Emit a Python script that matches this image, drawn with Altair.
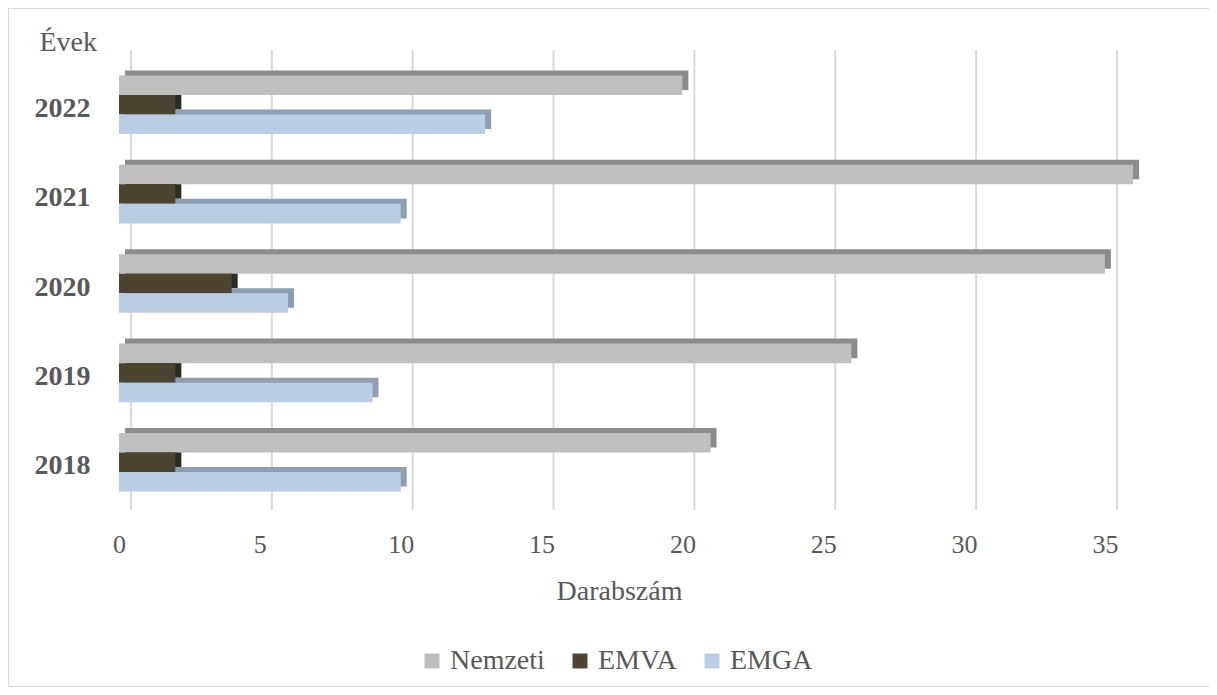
import altair as alt
import pandas as pd

years = ["2022", "2021", "2020", "2019", "2018"]
series = ["Nemzeti", "EMVA", "EMGA"]
nemzeti = [20, 36, 35, 26, 21]
emva = [2, 2, 4, 2, 2]
emga = [13, 10, 6, 9, 10]
x_ticks = [0, 5, 10, 15, 20, 25, 30, 35]

rows = []
for i, yr in enumerate(years):
    for s, vals in zip(series, [nemzeti, emva, emga]):
        rows.append({"Év": yr, "Sorozat": s, "Érték": vals[i]})
df = pd.DataFrame(rows)

front_colors = ["#BFBFBF", "#4A4430", "#B9CDE5"]
depth_colors = ["#8C8C8C", "#2F2B1E", "#8E9FB4"]

W, H = 1000, 447
DX, DY = 6, 5
FONT = "Liberation Serif"
GRAY = "#595959"
STEP = H / 5.0
BW = STEP * (1 - 0.345)

xscale = alt.Scale(domain=[0, 35.5], nice=False, zero=True)
yscale = alt.Scale(domain=years, paddingInner=0.345, paddingOuter=0.1725)

xaxis = alt.Axis(values=x_ticks, ticks=False, domain=False, grid=False, labelFlush=False,
                 labelFont=FONT, labelFontSize=26, labelColor=GRAY, labelPadding=24,
                 title="Darabszám", titleFont=FONT, titleFontSize=28,
                 titleFontWeight="normal", titleColor=GRAY, titlePadding=20)
yaxis = alt.Axis(ticks=False, domain=False, grid=False,
                 labelFont=FONT, labelFontSize=28, labelFontWeight="bold",
                 labelColor=GRAY, labelPadding=29, labelOffset=4,
                 title="Évek", titleFont=FONT, titleFontSize=28, titleFontWeight="normal",
                 titleColor=GRAY, titleAngle=0, titleX=-80, titleY=-10,
                 titleAlign="left", titleBaseline="alphabetic")

border = alt.Chart(pd.DataFrame({"a": [0]})).mark_rect(
    fillOpacity=0, stroke="#D9D9D9", strokeWidth=2
).encode(x=alt.value(-111), x2=alt.value(1091), y=alt.value(-52), y2=alt.value(627))

grid = alt.Chart(pd.DataFrame({"t": x_ticks})).mark_rule(
    color="#D9D9D9", strokeWidth=2, xOffset=12
).encode(x=alt.X("t:Q", scale=xscale, axis=xaxis), y=alt.value(-10), y2=alt.value(H + 3))

depth = alt.Chart(df).mark_bar(xOffset=DX, x2Offset=DX).encode(
    x=alt.X("Érték:Q", scale=xscale, axis=xaxis),
    y=alt.Y("Év:N", scale=yscale, axis=yaxis, sort=years),
    yOffset=alt.YOffset("Sorozat:N", sort=series,
                        scale=alt.Scale(domain=series, range=[-DY, BW - DY], paddingInner=0, paddingOuter=0)),
    color=alt.Color("Sorozat:N", scale=alt.Scale(domain=series, range=depth_colors), legend=None),
)

front = alt.Chart(df).mark_bar().encode(
    x=alt.X("Érték:Q", scale=xscale, axis=xaxis),
    y=alt.Y("Év:N", scale=yscale, axis=yaxis, sort=years),
    yOffset=alt.YOffset("Sorozat:N", sort=series,
                        scale=alt.Scale(domain=series, range=[0, BW], paddingInner=0, paddingOuter=0)),
    color=alt.Color("Sorozat:N", scale=alt.Scale(domain=series, range=front_colors),
                    legend=alt.Legend(title=None, orient="none", legendX=299, legendY=587,
                                      direction="horizontal", symbolType="square",
                                      symbolSize=225, symbolStrokeWidth=0,
                                      labelFont=FONT, labelFontSize=28, labelColor=GRAY,
                                      labelOffset=4, columnPadding=21, labelLimit=300)),
)

chart = alt.layer(border, grid, depth, front).resolve_scale(
    yOffset="independent", color="independent"
).properties(
    width=W, height=H,
    autosize=alt.AutoSizeParams(type="none"),
    padding={"left": 111, "top": 52, "right": 90, "bottom": 180},
).configure_view(strokeWidth=0).configure_legend(
    labelFont=FONT, labelFontSize=28, labelColor=GRAY, labelOffset=4,
    symbolSize=225, symbolType="square", columnPadding=21
)

chart.save("out.html", embed_options={"renderer": "svg", "actions": False})
